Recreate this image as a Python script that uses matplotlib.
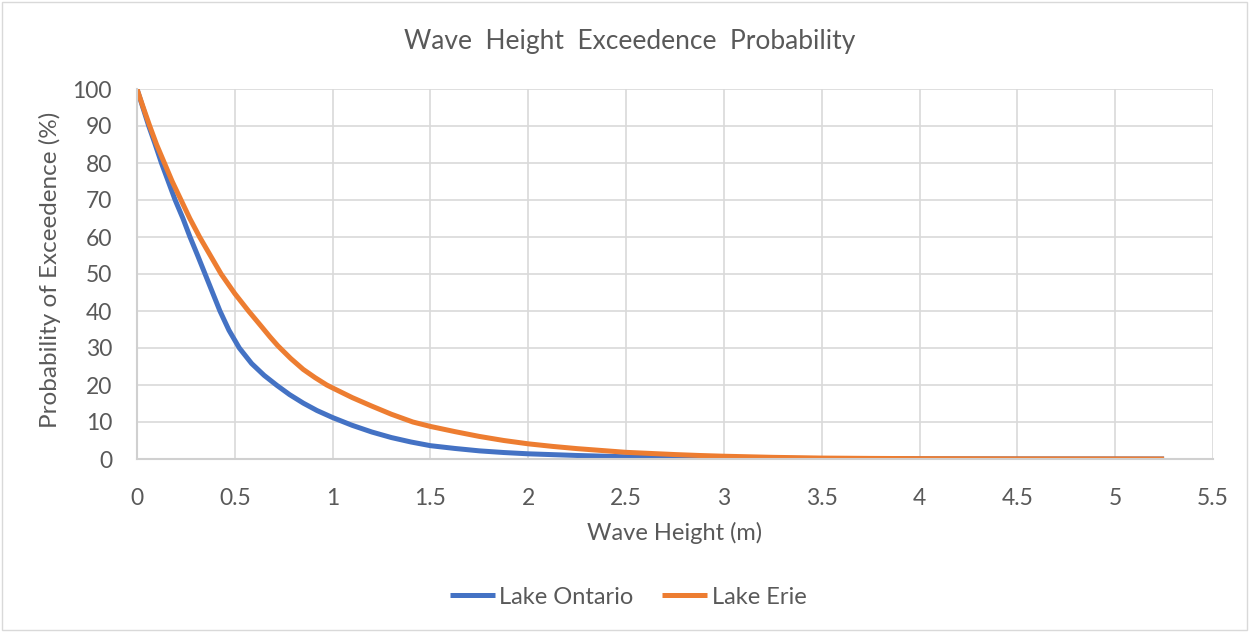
import matplotlib
matplotlib.use('Agg')
import matplotlib.pyplot as plt
from matplotlib.patches import Rectangle

plt.rcParams['font.family'] = ['Lato', 'DejaVu Sans']

# exceedence curves, wave height (m) vs probability (%)
ontario_h = [0, 0.03, 0.06, 0.09, 0.125, 0.16, 0.195, 0.235, 0.271, 0.31, 0.348, 0.386,
             0.424, 0.47, 0.523, 0.586, 0.65, 0.715, 0.78, 0.85, 0.92, 1.0, 1.1, 1.2,
             1.3, 1.4, 1.5, 1.625, 1.75, 1.875, 2.0, 2.25, 2.5, 2.75, 3.0, 3.5, 4.0, 4.5,
             5.0, 5.25]
ontario_p = [100, 95, 90, 85.5, 80, 75, 70, 65, 60, 55, 50, 45,
             40, 34.8, 30, 25.8, 22.6, 19.9, 17.4, 15.1, 13.1, 11.2, 9.1, 7.3,
             5.8, 4.6, 3.6, 2.85, 2.2, 1.75, 1.4, 0.95, 0.6, 0.4, 0.27, 0.12, 0.05, 0.02,
             0.01, 0.0]

erie_h = [0, 0.03, 0.065, 0.1, 0.14, 0.18, 0.225, 0.27, 0.32, 0.375, 0.43, 0.5, 0.57,
          0.63, 0.68, 0.72, 0.785, 0.85, 0.91, 0.97, 1.0, 1.1, 1.2, 1.3, 1.41, 1.5,
          1.625, 1.75, 1.875, 2.0, 2.125, 2.25, 2.375, 2.5, 2.625, 2.75, 2.875, 3.0, 3.25,
          3.5, 3.75, 4.0, 4.5, 5.0, 5.25]
erie_p = [100, 95.3, 90, 85, 80, 75, 70, 65, 60, 55, 50, 44.7, 40,
          36.2, 33, 30.6, 27.2, 24.2, 22, 20, 19.2, 16.6, 14.3, 12.1, 10, 8.8,
          7.4, 6.1, 5.0, 4.1, 3.4, 2.8, 2.3, 1.8, 1.5, 1.2, 0.95, 0.75, 0.45,
          0.25, 0.16, 0.1, 0.04, 0.02, 0.0]

x_ticks = [0, 0.5, 1, 1.5, 2, 2.5, 3, 3.5, 4, 4.5, 5, 5.5]
x_labels = ['0', '0.5', '1', '1.5', '2', '2.5', '3', '3.5', '4', '4.5', '5', '5.5']
y_ticks = list(range(0, 101, 10))

W, H = 1249, 632
TXT = '#595959'
GRID = '#D9D9D9'

fig = plt.figure(figsize=(W / 100, H / 100), dpi=100)
fig.patches.append(Rectangle((2 / W, 2 / H), 1 - 4 / W, 1 - 4 / H, transform=fig.transFigure,
                             fill=False, edgecolor=GRID, linewidth=1))

ax = fig.add_axes([137 / W, 1 - 459 / H, (1213 - 137) / W, (459 - 89) / H])
l1, = ax.plot(ontario_h, ontario_p, color='#4472C4', linewidth=3.6,
              solid_capstyle='butt', solid_joinstyle='round')
l2, = ax.plot(erie_h, erie_p, color='#ED7D31', linewidth=3.6,
              solid_capstyle='butt', solid_joinstyle='round')

ax.set_xlim(0, 5.5)
ax.set_ylim(0, 100)
ax.set_xticks(x_ticks)
ax.set_xticklabels(x_labels)
ax.set_yticks(y_ticks)
ax.tick_params(length=0, labelsize=16.5, labelcolor=TXT)
ax.tick_params(axis='x', pad=21)
ax.tick_params(axis='y', pad=18)
ax.grid(True, color=GRID, linewidth=1.2)
ax.set_axisbelow(True)
for side in ['top', 'right']:
    ax.spines[side].set_visible(False)
for side in ['left', 'bottom']:
    ax.spines[side].set_color('#D0D0D0')
    ax.spines[side].set_linewidth(1.5)

fig.text(630 / W, 1 - 42 / H, 'Wave  Height  Exceedence  Probability', ha='center', va='center',
         fontsize=19, color=TXT)
fig.text(675 / W, 1 - 533 / H, 'Wave Height (m)', ha='center', va='center',
         fontsize=17, color=TXT)
fig.text(50 / W, 1 - 270 / H, 'Probability of Exceedence (%)', ha='center', va='center',
         rotation=90, fontsize=17.5, color=TXT)

fig.legend([l1, l2], ['Lake Ontario', 'Lake Erie'], loc='center', bbox_to_anchor=(628 / W, 1 - 597 / H),
           ncol=2, frameon=False, fontsize=17, handlelength=1.9, handletextpad=0.2,
           columnspacing=1.2, labelcolor=TXT)

fig.savefig('out.png', dpi=100, facecolor='white')
